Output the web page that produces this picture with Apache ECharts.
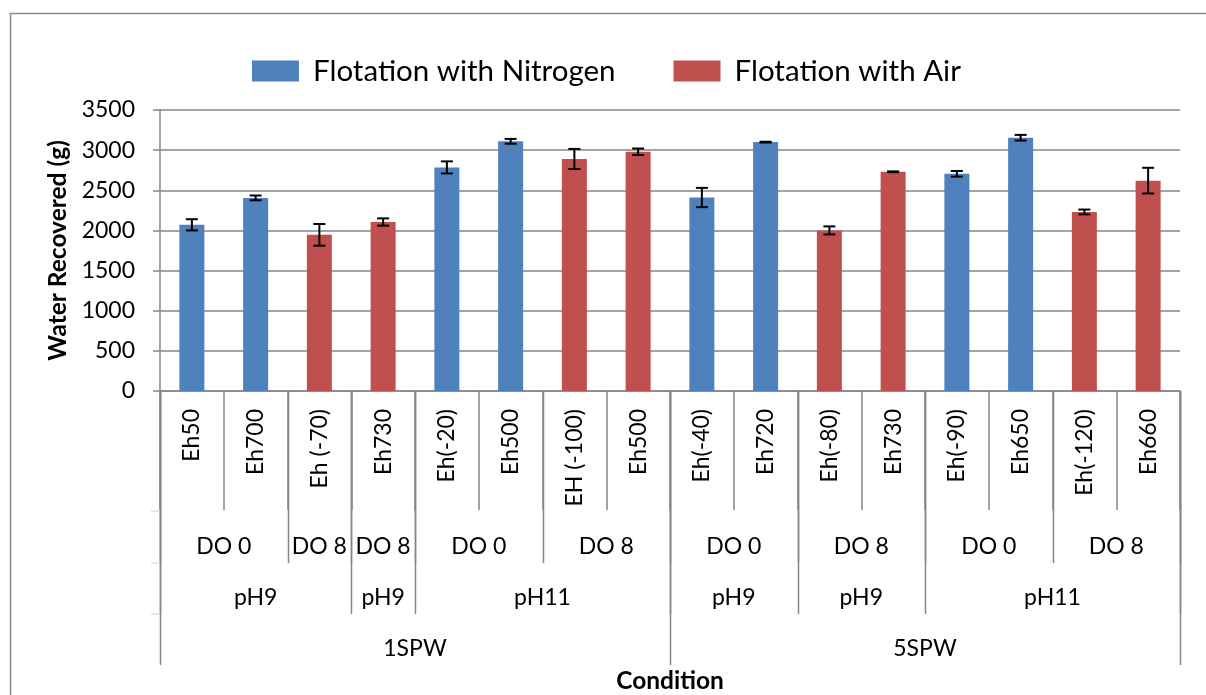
<!DOCTYPE html>
<html>
<head>
<meta charset="utf-8">
<script src="https://cdn.jsdelivr.net/npm/echarts@6/dist/echarts.min.js"></script>
<style>
html,body{margin:0;padding:0;background:#fff;}
#chart{width:1206px;height:695px;}
</style>
</head>
<body>
<div id="chart"></div>
<script>
// ---- data ----
const categories = ['Eh50','Eh700','Eh (-70)','Eh730','Eh(-20)','Eh500','EH (-100)','Eh500','Eh(-40)','Eh720','Eh(-80)','Eh730','Eh(-90)','Eh650','Eh(-120)','Eh660'];
const nitrogen = [2070, 2405, '-', '-', 2785, 3110, '-', '-', 2410, 3100, '-', '-', 2705, 3155, '-', '-'];
const air = ['-', '-', 1945, 2105, '-', '-', 2890, 2980, '-', '-', 2000, 2730, '-', '-', 2230, 2620];
const errors = [70, 30, 135, 45, 75, 30, 125, 40, 120, 5, 50, 5, 35, 35, 30, 160];
const doLabels = ['DO 0','DO 8','DO 8','DO 0','DO 8','DO 0','DO 8','DO 0','DO 8'];
const doSpans = [2,1,1,2,2,2,2,2,2];
const phLabels = ['pH9','pH9','pH11','pH9','pH9','pH11'];
const phSpans = [3,1,4,2,2,4];
const spwLabels = ['1SPW','5SPW'];
const spwSpans = [8,8];
const yTicks = {min:0, max:3500, interval:500};

const FONT = 'Lato';
const FS = 23;
const GRID = '#868686';
const chart = echarts.init(document.getElementById('chart'), null, {renderer:'canvas'});

const errData = categories.map((c,i)=>{
  const v = nitrogen[i] !== '-' ? nitrogen[i] : air[i];
  return [i, v, errors[i]];
});

const option = {
  animation:false,
  backgroundColor:'#fff',
  textStyle:{fontFamily:FONT},
  legend:{
    left:252, top:56, padding:0,
    itemWidth:47, itemHeight:21, itemGap:58,
    icon:'rect',
    textStyle:{fontFamily:FONT, fontSize:29.5, color:'#000', padding:[0,0,0,9]},
    data:['Flotation with Nitrogen','Flotation with Air']
  },
  grid:{left:160, right:26, top:110, bottom:303, containLabel:false},
  xAxis:{
    type:'category', data:categories,
    axisLine:{lineStyle:{color:GRID, width:1.5}},
    axisTick:{show:true, length:119, lineStyle:{color:GRID, width:1.5}},
    axisLabel:{rotate:90, margin:18, interval:0, fontFamily:FONT, fontSize:FS, color:'#000'},
    name:'Condition', nameLocation:'middle', nameGap:278,
    nameTextStyle:{fontFamily:FONT, fontSize:24.5, fontWeight:'bold', color:'#000'}
  },
  yAxis:{
    type:'value', min:yTicks.min, max:yTicks.max, interval:yTicks.interval,
    axisLine:{show:true, lineStyle:{color:GRID, width:1.5}},
    axisTick:{show:true, length:7, lineStyle:{color:GRID, width:1.5}},
    splitLine:{lineStyle:{color:GRID, width:1.5}},
    axisLabel:{margin:25, fontFamily:FONT, fontSize:FS, color:'#000', formatter:function(v){return String(v);}},
    name:'Water Recovered (g)', nameLocation:'middle', nameGap:88,
    nameTextStyle:{fontFamily:FONT, fontSize:24.5, fontWeight:'bold', color:'#000'}
  },
  series:[
    {name:'Flotation with Nitrogen', type:'bar', data:nitrogen, barWidth:25, barGap:'-100%',
     itemStyle:{color:'#4F81BD'}},
    {name:'Flotation with Air', type:'bar', data:air, barWidth:25, barGap:'-100%',
     itemStyle:{color:'#C0504D'}},
    {name:'err', type:'custom', data:errData, encode:{x:0, y:1}, z:10,
     renderItem:function(params, api){
       const x = api.value(0), v = api.value(1), e = api.value(2);
       const top = api.coord([x, v+e]);
       const bot = api.coord([x, v-e]);
       const hw = 6;
       const st = {stroke:'#000', lineWidth:2};
       return {type:'group', children:[
         {type:'line', shape:{x1:top[0], y1:top[1], x2:bot[0], y2:bot[1]}, style:st},
         {type:'line', shape:{x1:top[0]-hw, y1:top[1], x2:top[0]+hw, y2:top[1]}, style:st},
         {type:'line', shape:{x1:bot[0]-hw, y1:bot[1], x2:bot[0]+hw, y2:bot[1]}, style:st}
       ]};
     }}
  ]
};
chart.setOption(option);

// ---- hierarchical category labels / separators ----
const c0 = chart.convertToPixel({xAxisIndex:0}, 0);
const c1 = chart.convertToPixel({xAxisIndex:0}, 1);
const half = (c1 - c0)/2;
const axisY = chart.convertToPixel({yAxisIndex:0}, 0);
function boundary(idx){ return chart.convertToPixel({xAxisIndex:0}, Math.min(idx, categories.length-1)) + (idx >= categories.length ? half : -half); }

const graphics = [];
const lineStyle = {stroke:GRID, lineWidth:1.5};
function level(labels, spans, bottomY, textY){
  let start = 0;
  const bs = [0];
  labels.forEach((lab, k)=>{
    const end = start + spans[k];
    const xl = boundary(start), xr = boundary(end);
    graphics.push({type:'text', x:(xl+xr)/2, y:textY,
      style:{text:lab, font:FS+'px '+FONT, fill:'#000', textAlign:'center', textVerticalAlign:'middle'}});
    bs.push(end);
    start = end;
  });
  bs.forEach(b=>{
    const x = Math.round(boundary(b))+0.5;
    graphics.push({type:'line', shape:{x1:x, y1:axisY, x2:x, y2:bottomY}, style:lineStyle});
  });
}
level(doLabels, doSpans, 563, 547);
level(phLabels, phSpans, 614, 598);
level(spwLabels, spwSpans, 665, 649);
// faint row ticks at left edge
[511, 563, 614].forEach(y=>{
  const x0 = boundary(0);
  graphics.push({type:'line', shape:{x1:x0-9, y1:y, x2:x0, y2:y}, style:{stroke:'#d0d0d0', lineWidth:1}});
});
// outer chart frame
graphics.push({type:'rect', shape:{x:10.5, y:13.5, width:1300, height:800}, style:{fill:null, stroke:'#8a8a8a', lineWidth:1.5}, z:-1});
chart.setOption({graphic:graphics});
</script>
</body>
</html>
